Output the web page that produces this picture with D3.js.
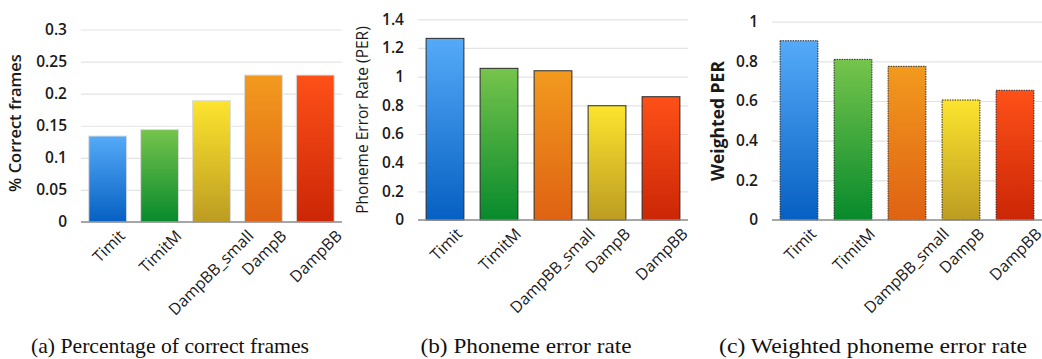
<!DOCTYPE html>
<html>
<head>
<meta charset="utf-8">
<script src="https://cdn.jsdelivr.net/npm/d3@7"></script>
<style>
  body { margin: 0; background: #fff; }
  svg { display: block; }
  .tick text { font-family: "Open Sans", sans-serif; font-weight: 600; font-size: 15.5px; fill: #1a1a1a; }
  .tick line { stroke: #e3e3e3; stroke-width: 1.2; }
</style>
</head>
<body>
<svg id="chart" width="1042" height="359"></svg>
<script>
// bar names, same order in all three panels
const categories = ["Timit", "TimitM", "DampBB_small", "DampB", "DampBB"];

// (a) fraction of correct frames
const correctFrames = [0.134, 0.144, 0.189, 0.229, 0.229];
const ticksA = [0, 0.05, 0.1, 0.15, 0.2, 0.25, 0.3];
const tickLabelsA = ["0", "0.05", "0.1", "0.15", "0.2", "0.25", "0.3"];

// (b) phoneme error rate
const per = [1.267, 1.058, 1.041, 0.797, 0.860];
const ticksB = [0, 0.2, 0.4, 0.6, 0.8, 1, 1.2, 1.4];
const tickLabelsB = ["0", "0.2", "0.4", "0.6", "0.8", "1", "1.2", "1.4"];

// (c) weighted phoneme error rate
const weightedPer = [0.904, 0.810, 0.775, 0.605, 0.654];
const ticksC = [0, 0.2, 0.4, 0.6, 0.8, 1];
const tickLabelsC = ["0", "0.2", "0.4", "0.6", "0.8", "1"];

const colorsA = ["blue", "green", "yellow", "orange", "red"];
const colorsBC = ["blue", "green", "orange", "yellow", "red"];

// top / bottom colours of each gradient
const gradients = {
  blue:   ["#55aaf8", "#0660c2"],
  green:  ["#76c44c", "#078a2c"],
  yellow: ["#fde42e", "#bd9c22"],
  orange: ["#f29a1e", "#df6212"],
  red:    ["#fe5018", "#cb2606"]
};

const svg = d3.select("#chart");
const defs = svg.append("defs");
Object.keys(gradients).forEach(function(k) {
  const g = defs.append("linearGradient")
    .attr("id", "grad-" + k)
    .attr("x1", 0).attr("y1", 0).attr("x2", 0).attr("y2", 1);
  g.append("stop").attr("offset", "0%").attr("stop-color", gradients[k][0]);
  g.append("stop").attr("offset", "100%").attr("stop-color", gradients[k][1]);
});

function drawPanel(p) {
  const y = d3.scaleLinear()
    .domain([0, p.max])
    .range([p.base, p.top]);
  const x = d3.scaleBand()
    .domain(categories)
    .range([p.left, p.right])
    .paddingInner(p.padIn)
    .paddingOuter(0.15);

  const yAxis = d3.axisLeft(y)
    .tickValues(p.ticks)
    .tickFormat((d, i) => p.tickLabels[i])
    .tickSize(-(p.right - p.left))
    .tickPadding(14);

  const ga = svg.append("g")
    .attr("transform", "translate(" + p.left + ",0)")
    .call(yAxis);
  ga.select(".domain").remove();
  ga.selectAll(".tick line").filter(d => d === 0).remove();

  svg.append("g")
    .selectAll("rect")
    .data(p.values)
    .enter()
    .append("rect")
    .attr("x", (d, i) => x(categories[i]))
    .attr("y", (d) => y(d))
    .attr("width", x.bandwidth())
    .attr("height", (d) => p.base - y(d))
    .attr("fill", (d, i) => "url(#grad-" + p.colors[i] + ")")
    .attr("stroke", p.stroke)
    .attr("stroke-width", 1)
    .attr("stroke-dasharray", p.dash);

  svg.append("line")
    .attr("x1", p.left).attr("x2", p.right)
    .attr("y1", p.base).attr("y2", p.base)
    .attr("stroke", "#8a8a8a")
    .attr("stroke-width", 1.5);

  // rotated category labels
  svg.append("g")
    .selectAll("text")
    .data(categories)
    .enter()
    .append("text")
    .text(d => d)
    .attr("text-anchor", "end")
    .style("font-family", "'Open Sans', sans-serif")
    .style("font-size", "16px")
    .style("fill", "#1a1a1a")
    .attr("transform", function(d) {
      const L = this.getComputedTextLength();
      const cx = x(d) + x.bandwidth() / 2;
      return "translate(" + (cx + 6 + 0.33 * L) + "," + (p.base + 15) + ") rotate(-45)";
    });

  svg.append("text")
    .text(p.title)
    .attr("text-anchor", "middle")
    .attr("transform", "translate(" + p.titleX + "," + p.titleY + ") rotate(-90)")
    .style("font-family", "'Open Sans', sans-serif")
    .style("font-size", p.titleSize + "px")
    .style("font-weight", p.titleWeight)
    .style("fill", "#1a1a1a");

  svg.append("text")
    .text(p.caption)
    .attr("x", p.capX)
    .attr("y", 353)
    .attr("text-anchor", "middle")
    .attr("textLength", p.capW)
    .attr("lengthAdjust", "spacingAndGlyphs")
    .style("font-family", "'Liberation Serif', 'Times New Roman', serif")
    .style("font-size", "22px")
    .style("fill", "#111");
}

drawPanel({
  values: correctFrames, ticks: ticksA, tickLabels: tickLabelsA, max: 0.3,
  colors: colorsA, left: 81, right: 342, top: 29.5, base: 222, padIn: 0.27,
  stroke: "#dcdcdc", dash: null,
  title: "% Correct frames", titleX: 21, titleY: 123, titleSize: 16.5, titleWeight: 600,
  caption: "(a) Percentage of correct frames", capX: 170, capW: 278
});

drawPanel({
  values: per, ticks: ticksB, tickLabels: tickLabelsB, max: 1.4,
  colors: colorsBC, left: 418, right: 688, top: 19.3, base: 220, padIn: 0.3,
  stroke: "#2a2a2a", dash: null,
  title: "Phoneme Error Rate (PER)", titleX: 368, titleY: 120, titleSize: 15.5, titleWeight: 400,
  caption: "(b) Phoneme error rate", capX: 526, capW: 211
});

drawPanel({
  values: weightedPer, ticks: ticksC, tickLabels: tickLabelsC, max: 1,
  colors: colorsBC, left: 772, right: 1042, top: 21.7, base: 220, padIn: 0.3,
  stroke: "#2a2a2a", dash: "1.5,1",
  title: "Weighted PER", titleX: 724, titleY: 121, titleSize: 17.5, titleWeight: 700,
  caption: "(c) Weighted phoneme error rate", capX: 873, capW: 308
});
</script>
</body>
</html>
